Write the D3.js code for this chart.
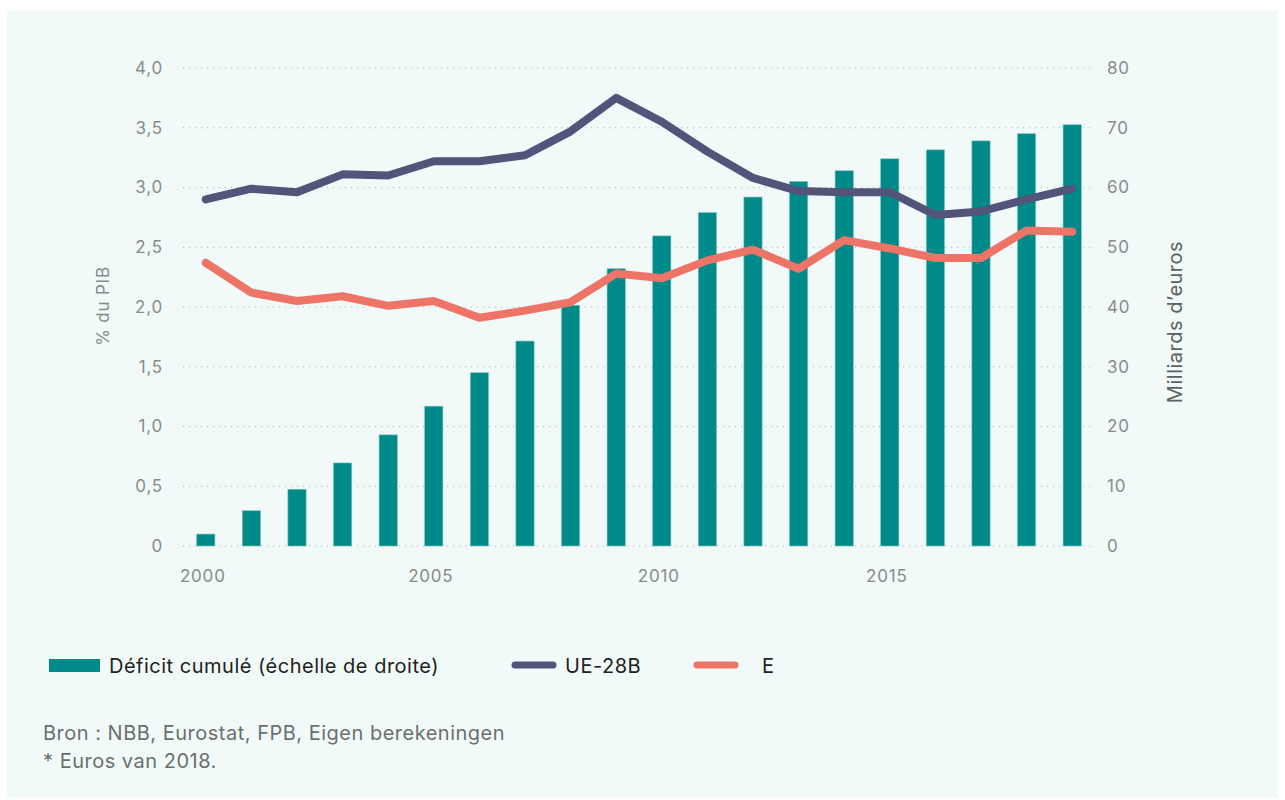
<!DOCTYPE html>
<html>
<head>
<meta charset="utf-8">
<script src="https://cdn.jsdelivr.net/npm/d3@7"></script>
<style>
  body { margin: 0; background: #ffffff; }
  svg { font-family: Inter, "Noto Sans", sans-serif; }
</style>
</head>
<body>
<svg id="chart" width="1285" height="800"></svg>
<script>
// data
const years = d3.range(2000, 2020);
const deficitCumule = [2.0, 5.9, 9.5, 13.9, 18.6, 23.4, 29.0, 34.3, 40.3, 46.4,
                       51.9, 55.8, 58.4, 61.0, 62.8, 64.8, 66.3, 67.8, 69.0, 70.5];
const ue28b = [2.90, 2.99, 2.96, 3.11, 3.10, 3.22, 3.22, 3.27, 3.47, 3.75,
               3.55, 3.30, 3.08, 2.97, 2.96, 2.96, 2.77, 2.80, 2.90, 2.99];
const eSeries = [2.37, 2.12, 2.05, 2.09, 2.01, 2.05, 1.91, 1.97, 2.04, 2.28,
                 2.24, 2.39, 2.48, 2.32, 2.56, 2.49, 2.41, 2.41, 2.64, 2.63];
const leftTicks = [0, 0.5, 1.0, 1.5, 2.0, 2.5, 3.0, 3.5, 4.0];
const rightTicks = [0, 10, 20, 30, 40, 50, 60, 70, 80];
const xTickYears = [2000, 2005, 2010, 2015];

const svg = d3.select("#chart");

// panel background
svg.append("rect")
    .attr("x", 7).attr("y", 10)
    .attr("width", 1271).attr("height", 788)
    .attr("fill", "#f1faf8");

const plotLeft = 183, plotRight = 1095;
const yTop = 68, yBottom = 546;

let x = d3.scaleBand()
    .domain(years)
    .range([183, 1095])
    .paddingInner(0.6)
    .paddingOuter(0.3);

let yLeft = d3.scaleLinear().domain([0, 4]).range([yBottom, yTop]);
let yRight = d3.scaleLinear().domain([0, 80]).range([yBottom, yTop]);

// grid
let grid = svg.append("g").attr("class", "grid");
grid.selectAll("line").data(leftTicks).enter().append("line")
    .attr("x1", plotLeft).attr("x2", plotRight)
    .attr("y1", d => yLeft(d)).attr("y2", d => yLeft(d))
    .attr("stroke", "#a9b1b0")
    .attr("stroke-width", 1)
    .attr("stroke-dasharray", "1,5");

function styleTicks(g) {
    g.select(".domain").remove();
    g.selectAll("text")
        .attr("fill", "#878c8b")
        .attr("font-size", 17)
        .attr("letter-spacing", 0.8)
        .attr("font-family", "Inter, sans-serif");
}

// left axis
svg.append("g")
    .attr("transform", "translate(163,0)")
    .call(d3.axisLeft(yLeft).tickValues(leftTicks).tickSize(0).tickPadding(0)
        .tickFormat(d => d === 0 ? "0" : d3.format(".1f")(d).replace(".", ",")))
    .call(styleTicks);

// right axis
svg.append("g")
    .attr("transform", "translate(1107,0)")
    .call(d3.axisRight(yRight).tickValues(rightTicks).tickSize(0).tickPadding(0))
    .call(styleTicks);

// x axis
svg.append("g")
    .attr("transform", "translate(-3,570)")
    .call(d3.axisBottom(x).tickValues(xTickYears).tickSize(0).tickPadding(0))
    .call(styleTicks);

// axis titles
svg.append("text")
    .attr("transform", "translate(109,306) rotate(-90)")
    .attr("text-anchor", "middle")
    .attr("fill", "#878c8b").attr("font-size", 17).attr("letter-spacing", 0.8)
    .text("% du PIB");

svg.append("text")
    .attr("transform", "translate(1182,322) rotate(-90)")
    .attr("text-anchor", "middle")
    .attr("fill", "#5d6261").attr("font-size", 20).attr("letter-spacing", 0.5)
    .text("Milliards d’euros");

// bars
svg.append("g").selectAll("rect").data(years).enter().append("rect")
    .attr("x", d => x(d))
    .attr("width", x.bandwidth())
    .attr("y", (d, i) => yRight(deficitCumule[i]))
    .attr("height", (d, i) => yBottom - yRight(deficitCumule[i]))
    .attr("fill", "#008a89")
    .attr("stroke", "#7cc4c1")
    .attr("stroke-width", 0.6);

// lines
const cx = d => x(d) + x.bandwidth() / 2;
let line = d3.line()
    .x(d => cx(d[0]))
    .y(d => yLeft(d[1]));

svg.append("path")
    .datum(years.map((yr, i) => [yr, ue28b[i]]))
    .attr("d", line)
    .attr("fill", "none")
    .attr("stroke", "#52547a")
    .attr("stroke-width", 8)
    .attr("stroke-linecap", "round")
    .attr("stroke-linejoin", "round");

svg.append("path")
    .datum(years.map((yr, i) => [yr, eSeries[i]]))
    .attr("d", line)
    .attr("fill", "none")
    .attr("stroke", "#ee7468")
    .attr("stroke-width", 8)
    .attr("stroke-linecap", "round")
    .attr("stroke-linejoin", "round");

// legend
let legend = svg.append("g").attr("class", "legend")
    .attr("font-size", 20).attr("letter-spacing", 0.5).attr("fill", "#222");
legend.append("rect")
    .attr("x", 49).attr("y", 659).attr("width", 51).attr("height", 13)
    .attr("fill", "#008a89");
legend.append("text")
    .attr("x", 109).attr("y", 673)
    .text("Déficit cumulé (échelle de droite)");

legend.append("line")
    .attr("x1", 515).attr("x2", 553).attr("y1", 665).attr("y2", 665)
    .attr("stroke", "#52547a").attr("stroke-width", 7).attr("stroke-linecap", "round");
legend.append("text")
    .attr("x", 565).attr("y", 673)
    .text("UE-28B");

legend.append("line")
    .attr("x1", 697).attr("x2", 735).attr("y1", 665).attr("y2", 665)
    .attr("stroke", "#ee7468").attr("stroke-width", 7).attr("stroke-linecap", "round");
legend.append("text")
    .attr("x", 762).attr("y", 673)
    .text("E");

// source
let source = svg.append("g")
    .attr("fill", "#6b6f6e").attr("font-size", 20).attr("letter-spacing", 0.5);
source.append("text")
    .attr("x", 43).attr("y", 740)
    .text("Bron : NBB, Eurostat, FPB, Eigen berekeningen");
source.append("text")
    .attr("x", 43).attr("y", 768)
    .text("* Euros van 2018.");
</script>
</body>
</html>
